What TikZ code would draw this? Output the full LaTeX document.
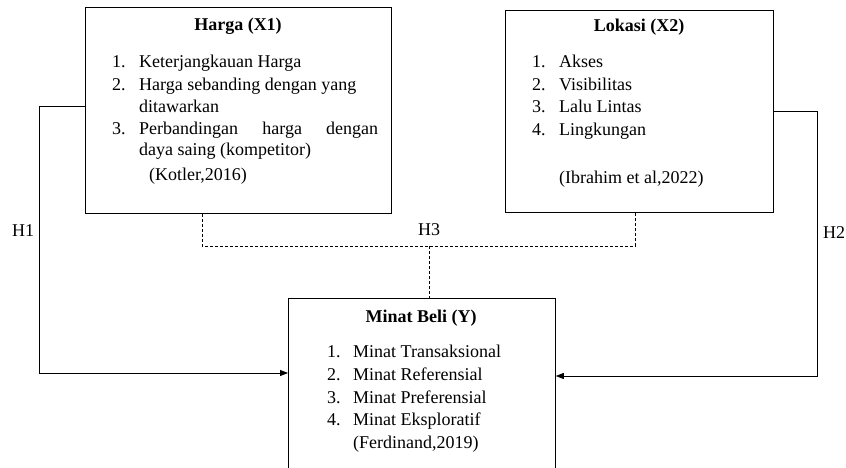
\documentclass[tikz,border=0pt]{standalone}
\usepackage{fontspec}
\setmainfont{Liberation Serif}
\usetikzlibrary{arrows.meta,positioning,calc}

\begin{document}
\begin{tikzpicture}[x=1pt,y=-1pt,>={Triangle[length=8pt,width=6pt]},
  font=\fontsize{18}{22}\selectfont,
  kotak/.style={draw,line width=0.8pt,anchor=north west,inner sep=0pt},
  txt/.style={anchor=base west,inner sep=0pt},
  judul/.style={anchor=base,inner sep=0pt,font=\fontsize{18}{22}\selectfont\bfseries},
  garis/.style={line width=0.8pt},
  putus/.style={line width=0.8pt,dash pattern=on 3pt off 2pt}]
  \useasboundingbox (0,0) rectangle (846,468);
  \clip (0,0) rectangle (846,468);
  % kotak variabel
  \node[kotak,minimum width=306pt,minimum height=206pt] (harga) at (85,7) {};
  \node[kotak,minimum width=268pt,minimum height=202pt] (lokasi) at (505,10) {};
  \node[kotak,minimum width=267pt,minimum height=200pt] (minat) at (288,298) {};
  % Harga (X1)
  \node[judul] (hargaT) at (238,31) {Harga (X1)};
  \foreach \n/\y/\t in {1/68/{Keterjangkauan Harga},2/90.5/{Harga sebanding dengan yang}}
     {\node[txt] (hN\n) at (112,\y) {\n.}; \node[txt] (hI\n) at (139,\y) {\t};}
  \node[txt] (hI2b) at (139,112.5) {ditawarkan};
  \node[txt] (hN3) at (112,135) {3.};
  \node[txt] (hI3) at (139,135) {\makebox[239pt][s]{Perbandingan harga dengan}};
  \node[txt] (hI3b) at (139,156) {daya saing (kompetitor)};
  \node[txt] (hRef) at (149,180) {(Kotler,2016)};
  % Lokasi (X2)
  \node[judul] (lokasiT) at (639,32) {Lokasi (X2)};
  \foreach \n/\y/\t in {1/68/Akses,2/91/Visibilitas,3/113/{Lalu Lintas},4/136/Lingkungan}
     {\node[txt] (lN\n) at (532,\y) {\n.}; \node[txt] (lI\n) at (559,\y) {\t};}
  \node[txt] (lRef) at (559,183) {(Ibrahim et al,2022)};
  % Minat Beli (Y)
  \node[judul] (minatT) at (421,322) {Minat Beli (Y)};
  \foreach \n/\y/\t in {1/357/{Minat Transaksional},2/380/{Minat Referensial},3/403/{Minat Preferensial},4/425/{Minat Eksploratif}}
     {\node[txt] (mN\n) at (327,\y) {\n.}; \node[txt] (mI\n) at (353,\y) {\t};}
  \node[txt] (mRef) at (353,448) {(Ferdinand,2019)};
  % hipotesis
  \coordinate (c1) at (39,373);
  \coordinate (c2) at (817,376);
  \coordinate (c3) at (429,246);
  \draw[garis,->] ([yshift=4pt]harga.west) -| (c1) -- (c1 -| minat.west);
  \draw[garis,->] (lokasi.east) -| (c2) -- (c2 -| minat.east);
  \draw[putus] ([xshift=-36pt]harga.south) |- (c3) -| ([xshift=-4pt]lokasi.south);
  \draw[putus] (c3) -- (c3 |- minat.north);
  \node[txt] (h1) at (12,236) {H1};
  \node[txt] (h2) at (823,238) {H2};
  \node[txt] (h3) at (418,235) {H3};
\end{tikzpicture}
\end{document}
